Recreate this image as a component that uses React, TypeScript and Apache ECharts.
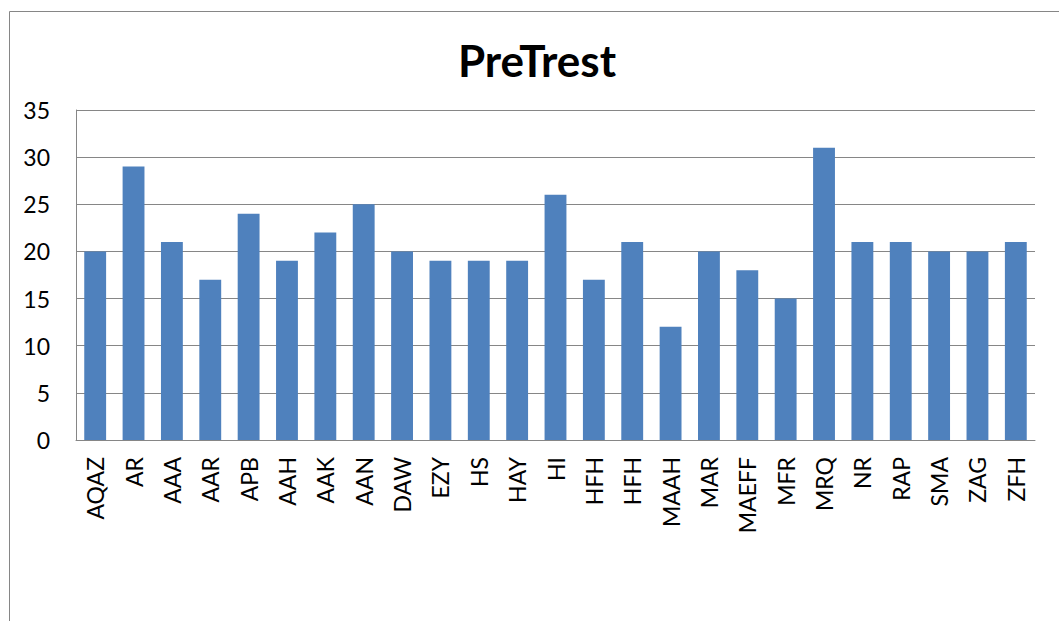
import React, { useEffect, useRef } from "react";
import * as echarts from "echarts";

const categories = [
  "AQAZ", "AR", "AAA", "AAR", "APB", "AAH", "AAK", "AAN", "DAW", "EZY",
  "HS", "HAY", "HI", "HFH", "HFH", "MAAH", "MAR", "MAEFF", "MFR", "MRQ",
  "NR", "RAP", "SMA", "ZAG", "ZFH",
];
const values = [
  20, 29, 21, 17, 24, 19, 22, 25, 20, 19,
  19, 19, 26, 17, 21, 12, 20, 18, 15, 31,
  21, 21, 20, 20, 21,
];
const title = "PreTrest";

export default function App() {
  const ref = useRef<HTMLDivElement>(null);
  useEffect(() => {
    if (!ref.current) return;
    const chart = echarts.init(ref.current, undefined, { renderer: "svg" });
    const gray = "#868686";
    chart.setOption({
      animation: false,
      backgroundColor: "#ffffff",
      textStyle: { fontFamily: "Lato" },
      title: {
        text: title,
        left: 532,
        textAlign: "center",
        top: 33,
        textStyle: { fontFamily: "Lato", fontWeight: "bold", fontSize: 44, color: "#000" },
      },
      graphic: [
        {
          type: "rect",
          shape: { x: 9.5, y: 11.5, width: 1200, height: 800 },
          style: { fill: "none", stroke: gray, lineWidth: 1 },
          silent: true,
        },
      ],
      grid: { left: 76, right: 24, top: 110, height: 330 },
      xAxis: {
        type: "category",
        data: categories,
        axisTick: { show: false },
        axisLine: { lineStyle: { color: gray, width: 1 } },
        axisLabel: {
          rotate: 90,
          interval: 0,
          margin: 17,
          fontSize: 23,
          fontFamily: "Lato",
          color: "#000",
        },
      },
      yAxis: {
        type: "value",
        min: 0,
        max: 35,
        interval: 5,
        axisLine: { show: true, lineStyle: { color: gray, width: 1 } },
        axisTick: { show: false },
        splitLine: { lineStyle: { color: gray, width: 1 } },
        axisLabel: { margin: 26, fontSize: 23, fontFamily: "Lato", color: "#000" },
      },
      series: [
        {
          type: "bar",
          data: values,
          barWidth: "57%",
          itemStyle: { color: "#4F81BD" },
        },
      ],
    });
    return () => chart.dispose();
  }, []);
  return (
    <div
      ref={ref}
      style={{ position: "fixed", left: 0, top: 0, width: 1059, height: 621 }}
    />
  );
}
